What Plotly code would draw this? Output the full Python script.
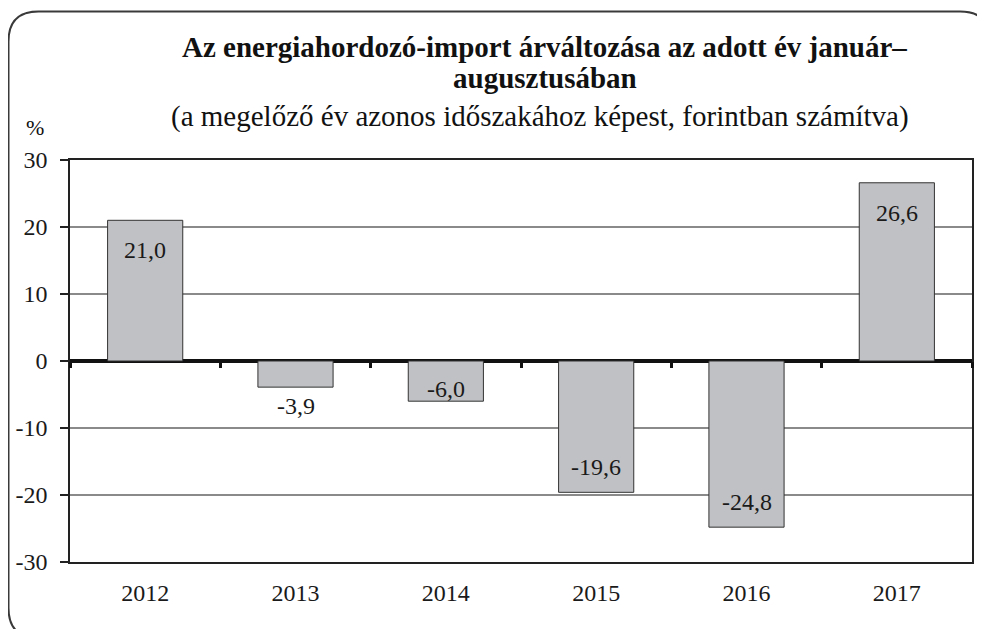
import plotly.graph_objects as go

# ---- data ----
years = ["2012", "2013", "2014", "2015", "2016", "2017"]
values = [21.0, -3.9, -6.0, -19.6, -24.8, 26.6]
labels = ["21,0", "-3,9", "-6,0", "-19,6", "-24,8", "26,6"]
y_ticks = [-30, -20, -10, 0, 10, 20, 30]
y_tick_text = ["-30", "-20", "-10", "0", "10", "20", "30"]

title_line1 = "Az energiahordozó-import árváltozása az adott év január–"
title_line2 = "augusztusában"
subtitle = "(a megelőző év azonos időszakához képest, forintban számítva)"
unit = "%"

# ---- layout geometry (page pixels; page body has an 8px margin) ----
OFF = 8
W, H = 985 - OFF, 629 - OFF
PL, PR, PT, PB = 70, 972, 160, 562          # plot area in page pixels
ML, MT = PL - OFF, PT - OFF
MR, MB = W - (PR - OFF), H - (PB - OFF)
PW, PH = PR - PL, PB - PT
FONT = "Liberation Serif, DejaVu Serif, serif"


def px(x):
    return (x - PL) / PW


def py(y):
    return (PB - y) / PH


pos = list(range(len(years)))

fig = go.Figure()
fig.add_trace(go.Bar(
    x=pos, y=values, width=0.5,
    marker=dict(color="#c0c1c4", line=dict(color="#333333", width=1)),
    hovertext=years, showlegend=False,
))

# value labels (inside end where they fit, else outside)
for xi, v, t in zip(pos, values, labels):
    bar_px = abs(v) * PH / 60
    if v > 0:
        shift = -30
    elif bar_px > 90:
        shift = 25
    elif bar_px > 30:
        shift = 12
    else:
        shift = -19
    fig.add_annotation(x=xi, y=v, text=t, showarrow=False, yshift=shift,
                       xref="x", yref="y", yanchor="middle",
                       font=dict(family=FONT, size=24, color="#1a1a1a"))

# boundary ticks on the zero line (secondary axis)
fig.add_trace(go.Scatter(x=[-0.5, 5.5], y=[0, 0], mode="lines", line=dict(width=0),
                         xaxis="x2", showlegend=False, hoverinfo="skip"))

# titles
fig.add_annotation(xref="paper", yref="paper", x=px(544), y=py(47), text="<b>" + title_line1 + "</b>",
                   showarrow=False, xanchor="center", yanchor="middle",
                   font=dict(family=FONT, size=29, color="#111"))
fig.add_annotation(xref="paper", yref="paper", x=px(545), y=py(78), text="<b>" + title_line2 + "</b>",
                   showarrow=False, xanchor="center", yanchor="middle",
                   font=dict(family=FONT, size=29, color="#111"))
fig.add_annotation(xref="paper", yref="paper", x=px(540), y=py(116), text=subtitle,
                   showarrow=False, xanchor="center", yanchor="middle",
                   font=dict(family=FONT, size=29, color="#111"))
fig.add_annotation(xref="paper", yref="paper", x=px(35), y=py(128), text=unit,
                   showarrow=False, xanchor="center", yanchor="middle",
                   font=dict(family=FONT, size=22, color="#111"))

# rounded outer frame
L, T, R, B, r = 8.5, 11.5, 990, 638, 30
path = (f"M {px(L + r)} {py(T)} L {px(R - r)} {py(T)} Q {px(R)} {py(T)} {px(R)} {py(T + r)} "
        f"L {px(R)} {py(B - r)} Q {px(R)} {py(B)} {px(R - r)} {py(B)} "
        f"L {px(L + r)} {py(B)} Q {px(L)} {py(B)} {px(L)} {py(B - r)} "
        f"L {px(L)} {py(T + r)} Q {px(L)} {py(T)} {px(L + r)} {py(T)} Z")
fig.add_shape(type="path", path=path, xref="paper", yref="paper",
              line=dict(color="#3a3a3a", width=2), layer="above")

fig.update_layout(
    width=W, height=H,
    margin=dict(l=ML, r=MR, t=MT, b=MB, autoexpand=False),
    paper_bgcolor="white", plot_bgcolor="white",
    font=dict(family=FONT, size=24, color="#1a1a1a"),
    xaxis=dict(range=[-0.5, 5.5], tickmode="array", tickvals=pos, ticktext=years,
               ticks="", showgrid=False, zeroline=False,
               showline=True, linecolor="#222", linewidth=1.5, mirror=True,
               tickfont=dict(family=FONT, size=24, color="#1a1a1a"),
               ticklabelstandoff=8),
    xaxis2=dict(overlaying="x", anchor="free", position=0.5, side="bottom",
                range=[-0.5, 5.5], tickmode="array",
                tickvals=[i - 0.5 for i in range(len(years) + 1)],
                ticks="outside", ticklen=6, tickwidth=3, tickcolor="#111",
                showticklabels=False, showgrid=False, zeroline=False, showline=False),
    yaxis=dict(range=[-30, 30], tickmode="array", tickvals=y_ticks, ticktext=y_tick_text,
               ticks="outside", ticklen=8, tickwidth=1.5, tickcolor="#222",
               showgrid=True, gridcolor="#8a8a8a", gridwidth=2,
               zeroline=True, zerolinecolor="#111", zerolinewidth=4,
               showline=True, linecolor="#222", linewidth=1.5, mirror=True,
               tickfont=dict(family=FONT, size=24, color="#1a1a1a"),
               ticklabelstandoff=8),
)

fig.write_html("out.html")
